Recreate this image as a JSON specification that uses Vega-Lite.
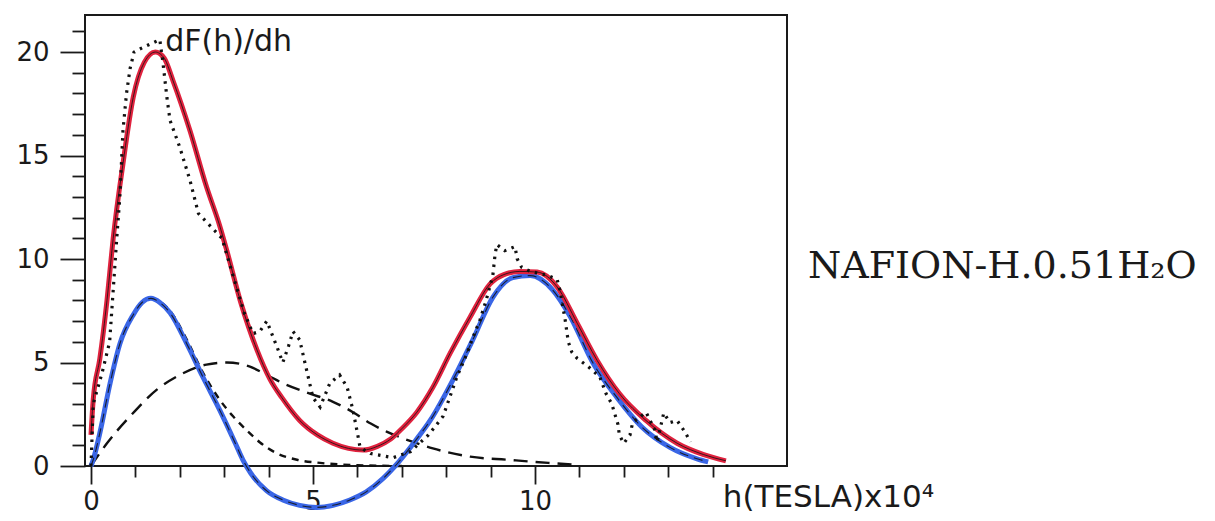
{
  "$schema": "https://vega.github.io/schema/vega-lite/v6.json",
  "width": 702,
  "height": 451,
  "autosize": "none",
  "padding": {"left": 85, "top": 15, "right": 428, "bottom": 55},
  "background": "white",
  "config": {
    "view": {"stroke": "#1a1a1a", "strokeWidth": 2},
    "axis": {
      "domain": false,
      "grid": false,
      "tickColor": "#1a1a1a",
      "tickWidth": 1.8,
      "labelColor": "#1a1a1a",
      "labelFont": "DejaVu Sans",
      "labelFontSize": 26,
      "title": null
    }
  },
  "datasets": {
    "red": [
      {"x": 0, "y": 1.5}, {"x": 0.05, "y": 3.2}, {"x": 0.2, "y": 5.2}, {"x": 0.36, "y": 8.0}, {"x": 0.5, "y": 11.0},
      {"x": 0.72, "y": 14.6}, {"x": 0.95, "y": 17.8}, {"x": 1.2, "y": 19.5}, {"x": 1.45, "y": 20.0}, {"x": 1.65, "y": 19.7},
      {"x": 1.85, "y": 18.6}, {"x": 2.23, "y": 16.2}, {"x": 2.6, "y": 13.5}, {"x": 2.9, "y": 11.6}, {"x": 3.06, "y": 10.4},
      {"x": 3.36, "y": 8.0}, {"x": 3.74, "y": 5.6}, {"x": 4.03, "y": 4.2}, {"x": 4.3, "y": 3.3}, {"x": 4.7, "y": 2.2},
      {"x": 5.1, "y": 1.5}, {"x": 5.45, "y": 1.1}, {"x": 5.8, "y": 0.85}, {"x": 6.13, "y": 0.77}, {"x": 6.45, "y": 0.95},
      {"x": 6.75, "y": 1.3}, {"x": 7.0, "y": 1.8}, {"x": 7.34, "y": 2.6}, {"x": 7.7, "y": 3.8}, {"x": 8.09, "y": 5.45},
      {"x": 8.54, "y": 7.2}, {"x": 8.99, "y": 8.8}, {"x": 9.3, "y": 9.25}, {"x": 9.66, "y": 9.4}, {"x": 10.05, "y": 9.37},
      {"x": 10.5, "y": 8.65}, {"x": 10.95, "y": 6.9}, {"x": 11.4, "y": 5.1}, {"x": 11.9, "y": 3.5}, {"x": 12.5, "y": 2.2},
      {"x": 13.2, "y": 1.1}, {"x": 13.8, "y": 0.55}, {"x": 14.3, "y": 0.25}
    ],
    "blue": [
      {"x": 0, "y": 0}, {"x": 0.05, "y": 0.3}, {"x": 0.2, "y": 1.6}, {"x": 0.43, "y": 4.0}, {"x": 0.65, "y": 5.9},
      {"x": 0.95, "y": 7.3}, {"x": 1.15, "y": 7.9}, {"x": 1.35, "y": 8.1}, {"x": 1.55, "y": 7.9}, {"x": 1.78, "y": 7.4},
      {"x": 2.16, "y": 5.9}, {"x": 2.52, "y": 4.3}, {"x": 2.9, "y": 2.7}, {"x": 3.25, "y": 1.1}, {"x": 3.42, "y": 0.3},
      {"x": 3.6, "y": -0.35}, {"x": 3.96, "y": -1.2}, {"x": 4.32, "y": -1.64}, {"x": 4.7, "y": -1.9}, {"x": 5.09, "y": -2.0},
      {"x": 5.45, "y": -1.9}, {"x": 5.83, "y": -1.64}, {"x": 6.2, "y": -1.25}, {"x": 6.58, "y": -0.6}, {"x": 6.85, "y": 0.0},
      {"x": 7.3, "y": 1.2}, {"x": 7.64, "y": 2.2}, {"x": 8.15, "y": 4.15}, {"x": 8.6, "y": 6.1}, {"x": 9.05, "y": 8.15},
      {"x": 9.5, "y": 9.1}, {"x": 9.89, "y": 9.2}, {"x": 10.4, "y": 8.5}, {"x": 10.8, "y": 7.2}, {"x": 11.3, "y": 5.0},
      {"x": 11.85, "y": 3.3}, {"x": 12.4, "y": 1.9}, {"x": 13.04, "y": 0.9}, {"x": 13.65, "y": 0.35}, {"x": 13.9, "y": 0.2}
    ],
    "shortdash": [
      {"x": 0, "y": 0}, {"x": 0.05, "y": 0.3}, {"x": 0.2, "y": 1.6}, {"x": 0.43, "y": 4.0}, {"x": 0.65, "y": 5.9},
      {"x": 0.95, "y": 7.3}, {"x": 1.15, "y": 7.9}, {"x": 1.35, "y": 8.1}, {"x": 1.55, "y": 7.95}, {"x": 1.78, "y": 7.5},
      {"x": 2.16, "y": 6.1}, {"x": 2.5, "y": 4.6}, {"x": 2.9, "y": 3.2}, {"x": 3.2, "y": 2.4}, {"x": 3.5, "y": 1.74},
      {"x": 3.8, "y": 1.15}, {"x": 4.15, "y": 0.65}, {"x": 4.64, "y": 0.3}, {"x": 5.16, "y": 0.15}, {"x": 6.0, "y": 0.04},
      {"x": 7.0, "y": 0.0}
    ],
    "longdash": [
      {"x": 0, "y": 0}, {"x": 0.36, "y": 1.1}, {"x": 0.88, "y": 2.4}, {"x": 1.49, "y": 3.7}, {"x": 2.0, "y": 4.4},
      {"x": 2.6, "y": 4.9}, {"x": 3.06, "y": 5.0}, {"x": 3.58, "y": 4.8}, {"x": 3.96, "y": 4.4}, {"x": 4.32, "y": 4.0},
      {"x": 4.93, "y": 3.5}, {"x": 5.45, "y": 3.1}, {"x": 5.9, "y": 2.6}, {"x": 6.3, "y": 2.05}, {"x": 6.67, "y": 1.65},
      {"x": 7.2, "y": 1.2}, {"x": 7.7, "y": 0.85}, {"x": 8.54, "y": 0.45}, {"x": 9.4, "y": 0.3}, {"x": 10.3, "y": 0.15},
      {"x": 11.0, "y": 0.05}
    ],
    "dotted": [
      {"x": 0, "y": 0}, {"x": 0.05, "y": 3.0}, {"x": 0.25, "y": 4.5}, {"x": 0.42, "y": 6.0}, {"x": 0.5, "y": 8.5},
      {"x": 0.58, "y": 11.0}, {"x": 0.65, "y": 13.0}, {"x": 0.72, "y": 16.2}, {"x": 0.8, "y": 18.0}, {"x": 0.88, "y": 19.2},
      {"x": 0.97, "y": 20.0}, {"x": 1.15, "y": 20.2}, {"x": 1.35, "y": 20.4}, {"x": 1.55, "y": 20.6}, {"x": 1.62, "y": 19.5},
      {"x": 1.71, "y": 17.8}, {"x": 1.78, "y": 16.7}, {"x": 2.0, "y": 15.4}, {"x": 2.23, "y": 13.8}, {"x": 2.42, "y": 12.2},
      {"x": 2.95, "y": 11.0}, {"x": 3.2, "y": 9.2}, {"x": 3.45, "y": 7.4}, {"x": 3.65, "y": 6.4}, {"x": 3.8, "y": 6.5},
      {"x": 3.96, "y": 7.0}, {"x": 4.19, "y": 5.75}, {"x": 4.32, "y": 5.0}, {"x": 4.45, "y": 5.8}, {"x": 4.55, "y": 6.5},
      {"x": 4.7, "y": 6.1}, {"x": 4.86, "y": 4.6}, {"x": 5.0, "y": 3.3}, {"x": 5.16, "y": 2.85}, {"x": 5.38, "y": 4.0},
      {"x": 5.6, "y": 4.4}, {"x": 5.77, "y": 3.8}, {"x": 5.9, "y": 2.7}, {"x": 6.0, "y": 1.6}, {"x": 6.06, "y": 0.9},
      {"x": 6.3, "y": 0.6}, {"x": 6.8, "y": 0.4}, {"x": 7.2, "y": 0.7}, {"x": 7.6, "y": 1.5}, {"x": 7.93, "y": 2.4},
      {"x": 8.24, "y": 4.3}, {"x": 8.47, "y": 5.45}, {"x": 8.6, "y": 6.2}, {"x": 8.76, "y": 7.05}, {"x": 8.9, "y": 8.0},
      {"x": 9.05, "y": 9.2}, {"x": 9.1, "y": 10.2}, {"x": 9.14, "y": 10.7}, {"x": 9.32, "y": 10.4}, {"x": 9.55, "y": 10.6},
      {"x": 9.6, "y": 10.0}, {"x": 9.7, "y": 9.6}, {"x": 9.9, "y": 9.4}, {"x": 10.3, "y": 9.2}, {"x": 10.5, "y": 9.0},
      {"x": 10.56, "y": 8.5}, {"x": 10.68, "y": 7.05}, {"x": 10.75, "y": 6.0}, {"x": 10.83, "y": 5.5}, {"x": 10.95, "y": 5.2},
      {"x": 11.2, "y": 4.8}, {"x": 11.46, "y": 4.3}, {"x": 11.6, "y": 3.5}, {"x": 11.73, "y": 3.0}, {"x": 11.8, "y": 2.5},
      {"x": 11.87, "y": 2.0}, {"x": 11.9, "y": 1.5}, {"x": 12.0, "y": 1.1}, {"x": 12.14, "y": 1.5}, {"x": 12.2, "y": 2.1},
      {"x": 12.5, "y": 2.6}, {"x": 12.7, "y": 1.74}, {"x": 12.75, "y": 1.16}, {"x": 12.9, "y": 2.56}, {"x": 13.04, "y": 2.1},
      {"x": 13.2, "y": 2.2}, {"x": 13.38, "y": 1.64}, {"x": 13.5, "y": 1.16}
    ],
    "labels": [
      {"x": 1.67, "y": 20.05, "label": "dF(h)/dh", "kind": "ylabel"},
      {"x": 14.23, "y": -1.98, "label": "h(TESLA)x10⁴", "kind": "xlabel"},
      {"x": 16.15, "y": 9.08, "label": "NAFION-H.0.51H₂O", "kind": "sample"}
    ]
  },
  "encoding": {
    "x": {
      "field": "x", "type": "quantitative",
      "scale": {"domain": [-0.135, 15.676], "nice": false, "zero": false},
      "axis": {
        "values": [0, 1, 2, 3, 4, 5, 6, 7, 8, 9, 10, 11, 12, 13, 14],
        "labelExpr": "datum.value % 5 === 0 ? datum.label : ''",
        "tickSize": {"condition": {"test": "datum.value % 5 === 0", "value": 18}, "value": 11},
        "labelPadding": 4,
        "labelFlush": false
      }
    },
    "y": {
      "field": "y", "type": "quantitative",
      "scale": {"domain": [0, 21.79], "nice": false, "zero": false},
      "axis": {
        "values": [0, 1, 2, 3, 4, 5, 6, 7, 8, 9, 10, 11, 12, 13, 14, 15, 16, 17, 18, 19, 20, 21],
        "labelExpr": "datum.value % 5 === 0 ? datum.label : ''",
        "tickSize": {"condition": {"test": "datum.value % 5 === 0", "value": 25}, "value": 13},
        "labelPadding": 11,
        "labelFlush": false
      }
    }
  },
  "layer": [
    {"data": {"name": "longdash"}, "mark": {"type": "line", "interpolate": "monotone", "color": "#111", "strokeWidth": 2.4, "strokeDash": [14, 8]}},
    {"data": {"name": "shortdash"}, "mark": {"type": "line", "interpolate": "monotone", "color": "#111", "strokeWidth": 2.4, "strokeDash": [7, 6]}},
    {"data": {"name": "blue"}, "mark": {"type": "line", "interpolate": "monotone", "color": "#3a66e6", "strokeWidth": 5}},
    {"data": {"name": "blue"}, "mark": {"type": "line", "interpolate": "monotone", "color": "#111", "strokeWidth": 1.1, "strokeDash": [9, 6], "opacity": 0.85}},
    {"data": {"name": "red"}, "mark": {"type": "line", "interpolate": "monotone", "color": "#e0223e", "strokeWidth": 5}},
    {"data": {"name": "red"}, "mark": {"type": "line", "interpolate": "monotone", "color": "#111", "strokeWidth": 1.0, "opacity": 0.8}},
    {"data": {"name": "dotted"}, "mark": {"type": "line", "interpolate": "linear", "color": "#111", "strokeWidth": 3.2, "strokeDash": [2.5, 5.5]}},
    {
      "data": {"name": "labels"},
      "transform": [{"filter": "datum.kind === 'ylabel'"}],
      "mark": {"type": "text", "align": "left", "baseline": "alphabetic", "font": "DejaVu Sans", "fontSize": 30, "color": "#1a1a1a"},
      "encoding": {"text": {"field": "label"}}
    },
    {
      "data": {"name": "labels"},
      "transform": [{"filter": "datum.kind === 'xlabel'"}],
      "mark": {"type": "text", "align": "left", "baseline": "alphabetic", "font": "DejaVu Sans", "fontSize": 31, "color": "#1a1a1a"},
      "encoding": {"text": {"field": "label"}}
    },
    {
      "data": {"name": "labels"},
      "transform": [{"filter": "datum.kind === 'sample'"}],
      "mark": {"type": "text", "align": "left", "baseline": "alphabetic", "font": "DejaVu Serif", "fontSize": 38, "color": "#1a1a1a"},
      "encoding": {"text": {"field": "label"}}
    }
  ]
}
